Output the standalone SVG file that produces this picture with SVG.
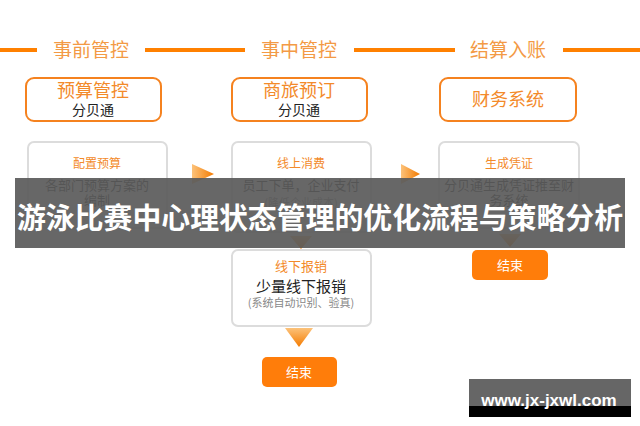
<svg xmlns="http://www.w3.org/2000/svg" width="640" height="426" viewBox="0 0 640 426">
<defs>
<linearGradient id="gr" x1="0" y1="0" x2="1" y2="0"><stop offset="0" stop-color="#fcc27a"/><stop offset="1" stop-color="#f47b00"/></linearGradient>
<linearGradient id="gd" x1="0" y1="0" x2="0" y2="1"><stop offset="0" stop-color="#fcc27a"/><stop offset="1" stop-color="#f47b00"/></linearGradient>
<style>
.hd{font-family:"Noto Sans CJK SC","Liberation Sans",sans-serif;font-size:19px;fill:#f39a45;text-anchor:middle}
.hl{stroke:#ff8000;stroke-width:4}
.tb{fill:#fff;stroke:#f5821f;stroke-width:2}
.gb{fill:#fff;stroke:#dcdcdc;stroke-width:2}
.ot{font-family:"Noto Sans CJK SC",sans-serif;fill:#f38a2a;text-anchor:middle}
.bt{font-family:"Noto Sans CJK SC",sans-serif;fill:#222;text-anchor:middle}
.gt{font-family:"Noto Sans CJK SC",sans-serif;fill:#888;text-anchor:middle}
.end{fill:#ff7d0a}
.et{font-family:"Noto Sans CJK SC",sans-serif;fill:#fff;font-size:13px;text-anchor:middle}
</style>
</defs>
<rect width="640" height="426" fill="#fff"/>
<g id="header">
<line class="hl" x1="0" y1="50" x2="37" y2="50"/>
<line class="hl" x1="145" y1="50" x2="245" y2="50"/>
<line class="hl" x1="354" y1="50" x2="455" y2="50"/>
<line class="hl" x1="563" y1="50" x2="640" y2="50"/>
<text class="hd" x="91" y="57">事前管控</text>
<text class="hd" x="299" y="57">事中管控</text>
<text class="hd" x="508" y="57">结算入账</text>
</g>
<g id="top1"><rect class="tb" x="26" y="78" width="135" height="43" rx="8"/><text class="ot" x="93" y="97" font-size="18">预算管控</text><text class="bt" x="93" y="115" font-size="14">分贝通</text></g>
<g id="top2"><rect class="tb" x="232" y="78" width="135" height="43" rx="8"/><text class="ot" x="299" y="97" font-size="18">商旅预订</text><text class="bt" x="299" y="115" font-size="14">分贝通</text></g>
<g id="top3"><rect class="tb" x="440" y="78" width="136" height="43" rx="8"/><text class="ot" x="508" y="106" font-size="18">财务系统</text></g>
<g id="step1"><rect class="gb" x="28" y="142" width="139" height="86" rx="6"/><text class="ot" x="97" y="168" font-size="12">配置预算</text><text class="bt" x="97" y="190" font-size="13">各部门预算方案的</text><text class="bt" x="97" y="205" font-size="13">编制</text></g>
<g id="step2"><rect class="gb" x="232" y="142" width="139" height="90" rx="6"/><text class="ot" x="301" y="168" font-size="12">线上消费</text><text class="bt" x="301" y="190" font-size="13">员工下单，企业支付</text><text class="gt" x="301" y="207" font-size="11">(降低企业成本)</text></g>
<g id="step3"><rect class="gb" x="439" y="142" width="140" height="86" rx="6"/><text class="ot" x="509" y="168" font-size="12">生成凭证</text><text class="bt" x="509" y="190" font-size="13">分贝通生成凭证推至财</text><text class="bt" x="509" y="205" font-size="13">务系统</text></g>
<g id="step4"><rect class="gb" x="232" y="250" width="139" height="76" rx="6"/><text class="ot" x="301" y="271" font-size="13">线下报销</text><text class="bt" x="301" y="292" font-size="15">少量线下报销</text><text class="gt" x="301" y="307" font-size="11">(系统自动识别、验真)</text></g>
<g id="end1"><rect class="end" x="262" y="357" width="75" height="30" rx="5"/><text class="et" x="299" y="377">结束</text></g>
<g id="end2"><rect class="end" x="472" y="250" width="76" height="30" rx="5"/><text class="et" x="510" y="270">结束</text></g>
<g id="connectors">
<polygon points="192,164 214,174 192,184" fill="url(#gr)"/>
<polygon points="401,164 420,174 401,184" fill="url(#gr)"/>
<polygon points="290,236 312,236 301,249" fill="url(#gd)"/>
<polygon points="499,234 521,234 510,247" fill="url(#gd)"/>
<polygon points="285,328 313,328 299,347" fill="url(#gd)"/>
</g>
<g id="banner">
<rect x="15" y="178" width="610" height="70" fill="#5a5a5a" fill-opacity="0.92"/>
<text x="320" y="229" font-family="Noto Sans CJK SC,sans-serif" font-weight="bold" font-size="29" fill="#fff" text-anchor="middle" textLength="606" lengthAdjust="spacingAndGlyphs">游泳比赛中心理状态管理的优化流程与策略分析</text>
</g>
<g id="watermark">
<rect x="469" y="379" width="162" height="27" fill="#666"/>
<rect x="469" y="406" width="162" height="11" fill="#000"/>
<text x="549" y="406" font-family="Liberation Sans,sans-serif" font-weight="bold" font-size="17" fill="#fff" text-anchor="middle">www.jx-jxwl.com</text>
</g>
</svg>
